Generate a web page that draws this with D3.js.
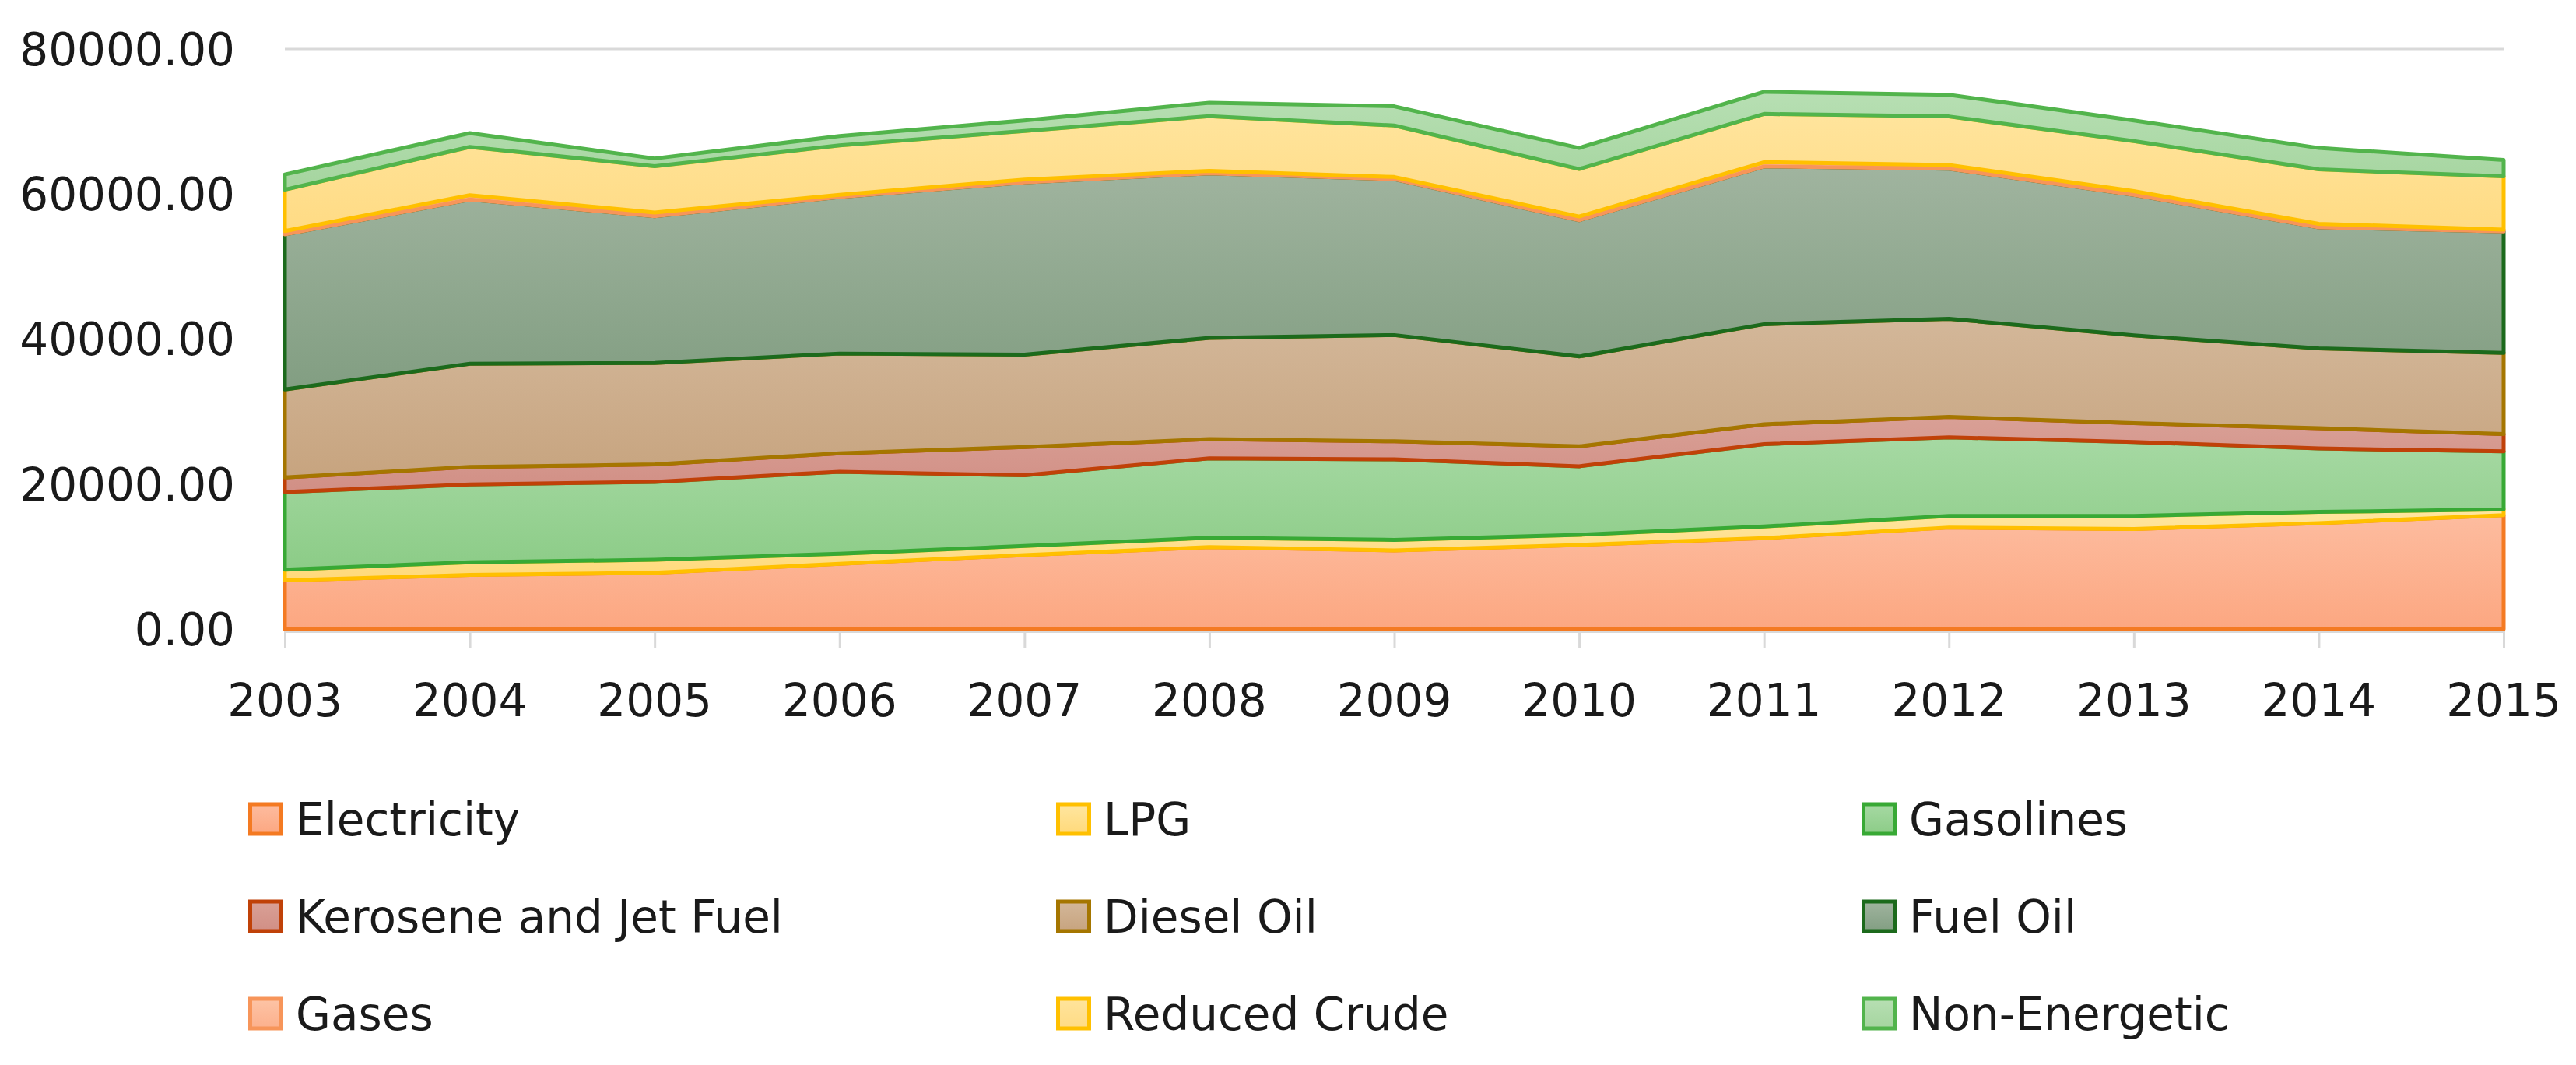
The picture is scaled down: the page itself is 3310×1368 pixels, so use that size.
<!DOCTYPE html>
<html>
<head>
<meta charset="utf-8">
<script src="https://cdn.jsdelivr.net/npm/d3@7"></script>
<style>
  body { margin: 0; background: white; }
  text { font-family: "DejaVu Sans", sans-serif; fill: #1a1a1a; }
</style>
</head>
<body>
<div id="divChart"></div>
<script>
// years on the x axis
const years = [2003, 2004, 2005, 2006, 2007, 2008, 2009, 2010, 2011, 2012, 2013, 2014, 2015];

// series values (bottom of the stack first)
const electricity  = [6700, 7450, 7750, 9000, 10200, 11300, 10850, 11600, 12550, 14000, 13800, 14600, 15700];
const lpg          = [1500, 1750, 1800, 1400, 1250, 1300, 1450, 1400, 1600, 1600, 1800, 1550, 800];
const gasolines    = [10700, 10750, 10750, 11300, 9750, 10950, 11100, 9450, 11350, 10850, 10200, 8750, 8000];
const kerosene     = [2000, 2400, 2400, 2550, 3900, 2650, 2500, 2750, 2750, 2800, 2600, 2800, 2400];
const dieselOil    = [12150, 14250, 14000, 13750, 12750, 13950, 14650, 12400, 13800, 13550, 12100, 11000, 11200];
const fuelOil      = [21400, 22650, 20250, 21600, 23750, 22700, 21500, 18800, 21750, 20700, 19400, 16700, 16750];
const gases        = [450, 600, 500, 300, 400, 350, 300, 500, 600, 500, 500, 500, 250];
const reducedCrude = [5700, 6650, 6400, 6800, 6700, 7550, 7100, 6550, 6650, 6700, 6900, 7500, 7350];
const nonEnergetic = [2100, 1900, 1050, 1300, 1450, 1850, 2650, 2900, 3050, 3000, 2850, 2950, 2250];

const seriesNames = ["Electricity", "LPG", "Gasolines", "Kerosene and Jet Fuel", "Diesel Oil",
                     "Fuel Oil", "Gases", "Reduced Crude", "Non-Energetic"];
const seriesValues = [electricity, lpg, gasolines, kerosene, dieselOil, fuelOil, gases, reducedCrude, nonEnergetic];

const yTicks = [0, 20000, 40000, 60000, 80000];

// fill gradient top, fill gradient bottom, outline
const styles = [
    ["#fdbc9f", "#fca781", "#f47a22"],
    ["#ffe6a0", "#ffd97a", "#ffc000"],
    ["#a6d9a3", "#8ccc87", "#38a935"],
    ["#d9a096", "#d18f85", "#c04108"],
    ["#d3b799", "#c7a47f", "#a57600"],
    ["#a0b49f", "#829e82", "#1c6a1c"],
    ["#fdc4a6", "#fcb08c", "#f7955a"],
    ["#ffe49c", "#ffdb84", "#ffc000"],
    ["#b7dfb3", "#a5d59f", "#52b44c"]
];

const W = 3310, H = 1368;
const plotLeft = 366, plotRight = 3217, plotTop = 63, plotBottom = 808;

let table = years.map((yr, i) => {
    let row = { year: yr };
    seriesNames.forEach((n, s) => row[n] = seriesValues[s][i]);
    return row;
});

let stacked = d3.stack().keys(seriesNames)(table);

let x = d3.scaleLinear().domain([2003, 2015]).range([plotLeft, plotRight]);
let y = d3.scaleLinear().domain([0, 80000]).range([plotBottom, plotTop]);

let svg = d3.select("#divChart").append("svg")
    .attr("width", W)
    .attr("height", H);

let defs = svg.append("defs");
styles.forEach((st, i) => {
    let g = defs.append("linearGradient")
        .attr("id", `grad${i}`)
        .attr("x1", 0).attr("y1", 0).attr("x2", 0).attr("y2", 1);
    g.append("stop").attr("offset", "0%").attr("stop-color", st[0]);
    g.append("stop").attr("offset", "100%").attr("stop-color", st[1]);
});

// gridlines
svg.append("g")
    .selectAll("line")
    .data(yTicks.slice(1))
    .join("line")
    .attr("x1", plotLeft).attr("x2", plotRight)
    .attr("y1", d => y(d)).attr("y2", d => y(d))
    .attr("stroke", "#d9d9d9")
    .attr("stroke-width", 3);

// x axis line and ticks
let xAxis = svg.append("g")
    .attr("transform", `translate(0,${plotBottom + 3})`)
    .call(d3.axisBottom(x).tickValues(years).tickSize(22).tickSizeOuter(0).tickFormat(""));
xAxis.select(".domain").attr("stroke", "#d9d9d9").attr("stroke-width", 3);
xAxis.selectAll(".tick line").attr("stroke", "#d9d9d9").attr("stroke-width", 3);

// stacked areas
let area = d3.area()
    .x(d => x(d.data.year))
    .y0(d => y(d[0]))
    .y1(d => y(d[1]));

svg.append("g")
    .selectAll("path")
    .data(stacked)
    .join("path")
    .attr("d", area)
    .attr("fill", (d, i) => `url(#grad${i})`)
    .attr("stroke", (d, i) => styles[i][2])
    .attr("stroke-width", 5)
    .attr("stroke-linejoin", "round");

// y labels
svg.append("g")
    .selectAll("text")
    .data(yTicks)
    .join("text")
    .attr("x", 302)
    .attr("y", d => y(d))
    .attr("dy", "0.36em")
    .attr("text-anchor", "end")
    .attr("font-size", 58)
    .text(d => d3.format(".2f")(d));

// x labels
svg.append("g")
    .selectAll("text")
    .data(years)
    .join("text")
    .attr("x", d => x(d))
    .attr("y", 920)
    .attr("text-anchor", "middle")
    .attr("font-size", 58)
    .text(d => d);

// legend, 3 columns
const colX = [319, 1357, 2392];
const rowY = [1052, 1177, 1302];

let legend = svg.append("g");
seriesNames.forEach((n, i) => {
    let cx = colX[i % 3], cy = rowY[Math.floor(i / 3)];
    legend.append("rect")
        .attr("x", cx + 2.5).attr("y", cy - 19)
        .attr("width", 40).attr("height", 38)
        .attr("fill", `url(#grad${i})`)
        .attr("stroke", styles[i][2])
        .attr("stroke-width", 5);
    legend.append("text")
        .attr("x", cx + 61)
        .attr("y", cy)
        .attr("dy", "0.36em")
        .attr("font-size", 58)
        .text(n);
});
</script>
</body>
</html>
